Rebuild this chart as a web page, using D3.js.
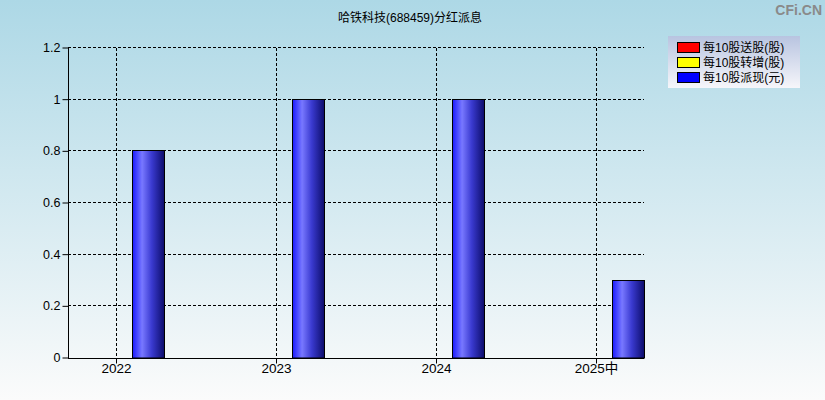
<!DOCTYPE html>
<html>
<head>
<meta charset="utf-8">
<script src="https://cdn.jsdelivr.net/npm/d3@7"></script>
<style>
body { margin: 0; padding: 0; }
text { font-family: "Liberation Sans", Arial, "Noto Sans CJK SC", sans-serif; }
</style>
</head>
<body>
<script>
(function(){

//chart data
var categories = ["2022", "2023", "2024", "2025中"];
var seriesNames = ["每10股送股(股)", "每10股转增(股)", "每10股派现(元)"];
var songGu = [0, 0, 0, 0];
var zhuanZeng = [0, 0, 0, 0];
var paiXian = [0.8, 1, 1, 0.3];
var yTicks = [0, 0.2, 0.4, 0.6, 0.8, 1, 1.2];
var seriesColors = ["#ff0000", "#ffff00", "#0000ff"];

window.onload = drawChart();

function drawChart(){

    var width = 825,
        height = 400;

    var svg = d3.select("body")
        .append("svg")
        .attr("width", width)
        .attr("height", height);

    var defs = svg.append("defs");

    //page background
    var bg = defs.append("linearGradient")
        .attr("id", "bgGrad")
        .attr("x1", 0).attr("y1", 0).attr("x2", 0).attr("y2", 1);
    bg.append("stop").attr("offset", "0%").attr("stop-color", "#add8e6");
    bg.append("stop").attr("offset", "100%").attr("stop-color", "#fbfbfb");

    //legend background
    var lg = defs.append("linearGradient")
        .attr("id", "legGrad")
        .attr("x1", 0).attr("y1", 0).attr("x2", 0).attr("y2", 1);
    lg.append("stop").attr("offset", "0%").attr("stop-color", "#b8c4e0");
    lg.append("stop").attr("offset", "100%").attr("stop-color", "#f6f6fa");

    //bar gradient
    var barGrad = defs.append("linearGradient")
        .attr("id", "barGrad")
        .attr("x1", 0).attr("y1", 0).attr("x2", 1).attr("y2", 0);
    barGrad.append("stop").attr("offset", "0%").attr("stop-color", "#1a1aff");
    barGrad.append("stop").attr("offset", "30%").attr("stop-color", "#7878ff");
    barGrad.append("stop").attr("offset", "60%").attr("stop-color", "#3a3ad0");
    barGrad.append("stop").attr("offset", "100%").attr("stop-color", "#0c0c6a");

    svg.append("rect")
        .attr("width", width)
        .attr("height", height)
        .attr("fill", "url(#bgGrad)");

    var left = 68, right = 644, top = 48, bottom = 358;

    var x = d3.scalePoint()
        .domain(categories)
        .range([116, 596]);

    var xSeries = d3.scaleBand()
        .domain(seriesNames)
        .range([-48, 48]);

    var y = d3.scaleLinear()
        .domain([0, 1.2])
        .range([bottom, top]);

    //grid lines
    svg.append("g").selectAll("line")
        .data(yTicks.filter(function(d){ return d > 0; }))
        .enter()
        .append("line")
        .attr("x1", left).attr("x2", right)
        .attr("y1", function(d){ return Math.round(y(d)) - 0.5; })
        .attr("y2", function(d){ return Math.round(y(d)) - 0.5; })
        .attr("stroke", "#000")
        .attr("stroke-dasharray", "3,2");

    svg.append("g").selectAll("line")
        .data(categories)
        .enter()
        .append("line")
        .attr("x1", function(d){ return x(d) + 0.5; })
        .attr("x2", function(d){ return x(d) + 0.5; })
        .attr("y1", top).attr("y2", bottom)
        .attr("stroke", "#000")
        .attr("stroke-dasharray", "3,2");

    //bars
    var allSeries = [songGu, zhuanZeng, paiXian];
    var barData = [];
    categories.forEach(function(c, i){
        seriesNames.forEach(function(s, j){
            if (allSeries[j][i] > 0){
                barData.push({cat: c, series: s, idx: j, value: allSeries[j][i]});
            }
        });
    });

    svg.append("g").selectAll("rect")
        .data(barData)
        .enter()
        .append("rect")
        .attr("x", function(d){ return x(d.cat) + xSeries(d.series) + 0.5; })
        .attr("y", function(d){ return Math.round(y(d.value)) - 0.5; })
        .attr("width", xSeries.bandwidth())
        .attr("height", function(d){ return y(0) - Math.round(y(d.value)) + 0.5; })
        .attr("fill", function(d){ return d.idx == 2 ? "url(#barGrad)" : seriesColors[d.idx]; })
        .attr("stroke", "#000")
        .attr("stroke-width", 1);

    //axes
    var yAxis = d3.axisLeft(y)
        .tickValues(yTicks)
        .tickSize(6)
        .tickFormat(function(d){ return d3.format("")(+d.toFixed(1)); });

    var yG = svg.append("g")
        .attr("transform", "translate(" + (left + 0.5) + ",-0.5)")
        .call(yAxis);
    yG.select(".domain").attr("stroke", "#000").attr("d", "M0," + top + "V" + (bottom + 1));
    yG.selectAll(".tick line").attr("stroke", "#000");
    yG.selectAll(".tick text")
        .attr("font-size", 12.5)
        .attr("fill", "#000")
        .attr("x", -8);

    var xAxis = d3.axisBottom(x)
        .tickSize(5);

    var xG = svg.append("g")
        .attr("transform", "translate(0," + (bottom + 0.5) + ")")
        .call(xAxis);
    xG.select(".domain").attr("stroke", "#000").attr("d", "M" + left + ",0H" + right);
    xG.selectAll(".tick line").attr("stroke", "#000");
    xG.selectAll(".tick text")
        .attr("font-size", 13.5)
        .attr("fill", "#000")
        .attr("y", 5);

    //title
    svg.append("text")
        .attr("x", 410)
        .attr("y", 22)
        .attr("text-anchor", "middle")
        .attr("font-size", 12)
        .attr("fill", "#000")
        .text("哈铁科技(688459)分红派息");

    //watermark
    svg.append("text")
        .attr("x", 822)
        .attr("y", 15)
        .attr("text-anchor", "end")
        .attr("font-size", 14)
        .attr("font-weight", "bold")
        .attr("fill", "#8a8a8a")
        .text("CFi.CN");

    //legend
    var legend = svg.append("g")
        .attr("transform", "translate(668,36)");

    legend.append("rect")
        .attr("width", 132)
        .attr("height", 52)
        .attr("fill", "url(#legGrad)");

    var items = legend.selectAll(".item")
        .data(seriesNames)
        .enter()
        .append("g")
        .attr("class", "item")
        .attr("transform", function(d, i){ return "translate(9," + (6 + i * 15) + ")"; });

    items.append("rect")
        .attr("x", 0.5).attr("y", 0.5)
        .attr("width", 22)
        .attr("height", 10)
        .attr("fill", function(d, i){ return seriesColors[i]; })
        .attr("stroke", "#000");

    items.append("text")
        .attr("x", 26)
        .attr("y", 10)
        .attr("font-size", 12)
        .attr("fill", "#000")
        .text(function(d){ return d; });
};

})();
</script>
</body>
</html>
